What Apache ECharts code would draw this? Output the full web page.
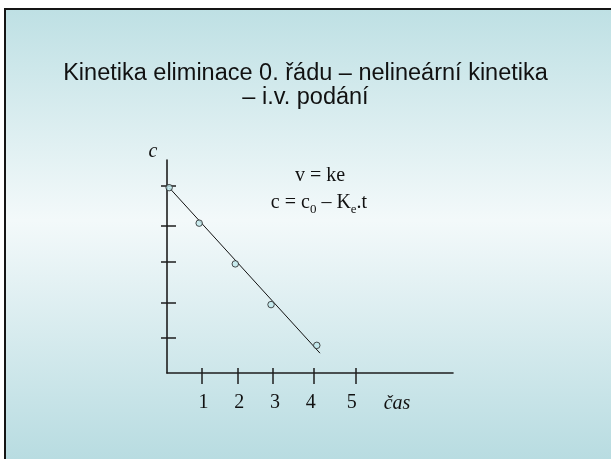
<!DOCTYPE html>
<html>
<head>
<meta charset="utf-8">
<script src="https://cdn.jsdelivr.net/npm/echarts@6/dist/echarts.min.js"></script>
<style>
  html, body { margin: 0; padding: 0; background: #ffffff; }
  #chart { width: 611px; height: 459px; }
</style>
</head>
<body>
<div id="chart"></div>
<script>
// Measured points: time (axis units) and concentration (axis units)
const timeValues = [0.06, 0.90, 1.91, 2.91, 4.19];
const concValues = [4.96, 4.01, 2.92, 1.83, 0.74];

// Straight elimination line c = c0 - Ke.t, start and end
const lineTime = [0.07, 4.28];
const lineConc = [4.95, 0.53];

// Hand-drawn tick marks and their labels
const timeTicks = [0.98, 1.97, 2.97, 4.11, 5.28];
const timeLabelPos = [1.02, 2.02, 3.02, 4.02, 5.17];
const timeLabels = ['1', '2', '3', '4', '5'];
const concTicks = [0.93, 1.89, 2.99, 3.93, 5.00];

const titleLines = ['Kinetika eliminace 0. řádu – nelineární kinetika', '– i.v. podání'];

const points = timeValues.map((t, i) => [t, concValues[i]]);
const linePts = lineTime.map((t, i) => [t, lineConc[i]]);

const SERIF = '"Liberation Serif", "DejaVu Serif", serif';
const axisColor = '#1e1e1e';

function timeAxis(inner) {
  return {
    type: 'value', min: 0, max: 8, position: 'bottom', offset: 0,
    axisLine: { show: !inner, lineStyle: { color: axisColor, width: 1.6 } },
    axisTick: {
      show: true, inside: inner, length: inner ? 5 : 11,
      customValues: timeTicks,
      lineStyle: { color: axisColor, width: 1.5 }
    },
    axisLabel: inner ? { show: false } : {
      show: true, customValues: timeLabelPos, margin: 20,
      formatter: v => timeLabels[timeLabelPos.indexOf(v)] ?? '',
      fontFamily: SERIF, fontSize: 20, color: '#111'
    },
    splitLine: { show: false }
  };
}

function concAxis(inner) {
  return {
    type: 'value', min: 0, max: 5.7, position: 'left', offset: 0,
    axisLine: { show: !inner, lineStyle: { color: axisColor, width: 1.6 } },
    axisTick: {
      show: true, inside: inner, length: inner ? 9 : 6,
      customValues: concTicks,
      lineStyle: { color: axisColor, width: 1.5 }
    },
    axisLabel: { show: false },
    splitLine: { show: false }
  };
}

const chart = echarts.init(document.getElementById('chart'), null, { renderer: 'canvas' });

chart.setOption({
  animation: false,
  backgroundColor: {
    type: 'linear', x: 0, y: 0, x2: 0, y2: 1,
    colorStops: [
      { offset: 0, color: '#bcdfe3' },
      { offset: 0.48, color: '#f3f9fa' },
      { offset: 1, color: '#b8dce1' }
    ]
  },
  title: {
    text: titleLines.join('\n'),
    left: 'center', top: 62, padding: 0,
    textStyle: {
      fontFamily: '"Liberation Sans", Arial, sans-serif',
      fontSize: 23.5, lineHeight: 24, fontWeight: 'normal', color: '#111'
    }
  },
  grid: { left: 167, top: 160, width: 286, height: 213, containLabel: false },
  xAxis: [timeAxis(false), timeAxis(true)],
  yAxis: [concAxis(false), concAxis(true)],
  graphic: [
    // slide frame: white margin with dark top and left edges
    { type: 'rect', shape: { x: 0, y: 0, width: 611, height: 8 }, style: { fill: '#ffffff' }, silent: true },
    { type: 'rect', shape: { x: 0, y: 0, width: 4, height: 459 }, style: { fill: '#ffffff' }, silent: true },
    { type: 'rect', shape: { x: 4, y: 8, width: 607, height: 2 }, style: { fill: '#151515' }, silent: true },
    { type: 'rect', shape: { x: 4, y: 8, width: 2, height: 451 }, style: { fill: '#151515' }, silent: true },
    // axis names
    { type: 'text', x: 153, y: 152, silent: true,
      style: { text: 'c', fontFamily: SERIF, fontStyle: 'italic', fontSize: 20, fill: '#111',
               align: 'center', verticalAlign: 'middle' } },
    { type: 'text', x: 397, y: 404, silent: true,
      style: { text: 'čas', fontFamily: SERIF, fontStyle: 'italic', fontSize: 20, fill: '#111',
               align: 'center', verticalAlign: 'middle' } },
    // rate equations
    { type: 'text', x: 320, y: 176, silent: true,
      style: { text: 'v = ke', fontFamily: SERIF, fontSize: 20, fill: '#111',
               align: 'center', verticalAlign: 'middle' } },
    { type: 'text', x: 319, y: 203, silent: true,
      style: {
        text: '{b|c = c}{s|0}{b| – K}{s|e}{b|.t}',
        align: 'center', verticalAlign: 'middle',
        rich: {
          b: { fontFamily: SERIF, fontSize: 20, lineHeight: 26, fill: '#111', verticalAlign: 'middle' },
          s: { fontFamily: SERIF, fontSize: 13, lineHeight: 13, fill: '#111', verticalAlign: 'bottom' }
        }
      } }
  ],
  series: [
    {
      type: 'line', data: linePts, xAxisIndex: 0, yAxisIndex: 0,
      symbol: 'none', silent: true,
      lineStyle: { color: '#111', width: 1 }, z: 3
    },
    {
      type: 'scatter', data: points, xAxisIndex: 0, yAxisIndex: 0,
      symbol: 'circle', symbolSize: 6.5, silent: true,
      itemStyle: { color: '#bfe8ec', borderColor: '#222', borderWidth: 1 }, z: 4
    }
  ]
});
</script>
</body>
</html>
